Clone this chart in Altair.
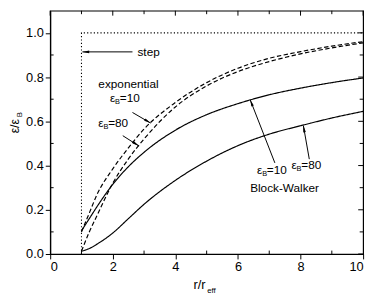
import math
import altair as alt
import pandas as pd

# ---------------- data ----------------
x_vals = [1, 1.25, 1.5, 2, 2.5, 3, 4, 5, 6, 7, 8, 9, 10]
exp10 = [0.10, 0.185, 0.27, 0.385, 0.48, 0.565, 0.685, 0.775, 0.84, 0.885, 0.915, 0.94, 0.96]
exp80 = [0.0125, 0.10, 0.175, 0.32, 0.43, 0.52, 0.665, 0.76, 0.825, 0.87, 0.905, 0.932, 0.955]
bw10 = [0.105, 0.16, 0.215, 0.315, 0.395, 0.46, 0.56, 0.63, 0.68, 0.72, 0.75, 0.775, 0.796]
bw80 = [0.0125, 0.025, 0.045, 0.095, 0.16, 0.225, 0.333, 0.42, 0.49, 0.542, 0.58, 0.615, 0.645]
step_x = [1, 1, 10]
step_y = [0, 1, 1]

x_major = [0, 2, 4, 6, 8, 10]
x_minor = [1, 3, 5, 7, 9]
y_major = [0.0, 0.2, 0.4, 0.6, 0.8, 1.0]
y_minor = [0.1, 0.3, 0.5, 0.7, 0.9]

# arrows: tail (x, y) -> head (x, y) in data units
arrow_tail_x = [2.63, 2.63, 2.32, 7.18, 8.28]
arrow_tail_y = [0.914, 0.64, 0.535, 0.412, 0.429]
arrow_head_x = [1.03, 3.21, 2.84, 6.39, 8.09]
arrow_head_y = [0.914, 0.592, 0.488, 0.698, 0.581]

# ---------------- layout ----------------
W, H = 319, 248
XMAX, YMAX = 10, 1.1
FONT = "Liberation Sans"

xs = alt.Scale(domain=[0, XMAX], nice=False, zero=False)
ys = alt.Scale(domain=[0, YMAX], nice=False, zero=False)

rows = []
for name, vals in [("exp10", exp10), ("exp80", exp80), ("bw10", bw10), ("bw80", bw80)]:
    for i, (xv, yv) in enumerate(zip(x_vals, vals)):
        rows.append({"x": xv, "y": yv, "s": name, "o": i})
curves = pd.DataFrame(rows)
step_df = pd.DataFrame({"x": step_x, "y": step_y, "o": list(range(len(step_x)))})

curve_layer = alt.Chart(curves).mark_line(
    color="black", strokeWidth=1.2, interpolate="monotone", clip=True
).encode(
    x=alt.X("x:Q", scale=xs, axis=alt.Axis(values=x_major, format="d", title=None)),
    y=alt.Y("y:Q", scale=ys, axis=alt.Axis(values=y_major, format=".1f", title=None)),
    detail="s:N",
    order="o:Q",
    strokeDash=alt.StrokeDash(
        "s:N",
        scale=alt.Scale(domain=["exp10", "exp80", "bw10", "bw80"],
                        range=[[4.5, 2.5], [4.5, 2.5], [1, 0], [1, 0]]),
        legend=None,
    ),
)

step_layer = alt.Chart(step_df).mark_line(
    color="black", strokeWidth=1.1, strokeDash=[1.2, 2.2]
).encode(x=alt.X("x:Q", scale=xs), y=alt.Y("y:Q", scale=ys), order="o:Q")

# inner ticks
def vticks(vals, y0, y1):
    return alt.Chart(pd.DataFrame({"t": vals})).mark_rule(color="black", strokeWidth=1).encode(
        x=alt.X("t:Q", scale=xs), y=alt.value(y0), y2=alt.value(y1))

def hticks(vals, x0, x1):
    return alt.Chart(pd.DataFrame({"t": vals})).mark_rule(color="black", strokeWidth=1).encode(
        y=alt.Y("t:Q", scale=ys), x=alt.value(x0), x2=alt.value(x1))

tick_layers = [
    vticks(x_major, 0, 5), vticks(x_minor, 0, 3.5),
    vticks(x_minor, H, H - 3.5),
    hticks(y_major, W, W - 5), hticks(y_minor, W, W - 3.5),
    hticks(y_minor, 0, 3.5),
]

# arrows
sx, sy = W / XMAX, H / YMAX
angles = []
for tx, ty, hx, hy in zip(arrow_tail_x, arrow_tail_y, arrow_head_x, arrow_head_y):
    dx = (hx - tx) * sx
    dys = -(hy - ty) * sy
    angles.append(math.degrees(math.atan2(dx, -dys)) % 360)
arrows = pd.DataFrame({"tx": arrow_tail_x, "ty": arrow_tail_y,
                       "hx": arrow_head_x, "hy": arrow_head_y, "a": angles})
arrow_lines = alt.Chart(arrows).mark_rule(color="black", strokeWidth=1).encode(
    x=alt.X("tx:Q", scale=xs), y=alt.Y("ty:Q", scale=ys), x2="hx:Q", y2="hy:Q")
arrow_heads = alt.Chart(arrows).mark_point(
    shape="M0,0L-0.45,2.3L0.45,2.3Z", filled=True, color="black", size=36, opacity=1
).encode(x=alt.X("hx:Q", scale=xs), y=alt.Y("hy:Q", scale=ys), angle=alt.Angle("a:Q", scale=None))

# text annotations (data-anchored)
def txt(x, y, s, size=12, dx=0, dy=0):
    return alt.Chart(pd.DataFrame({"x": [x], "y": [y], "s": [s]})).mark_text(
        align="left", baseline="middle", font=FONT, fontSize=size, dx=dx, dy=dy, color="black"
    ).encode(x=alt.X("x:Q", scale=xs), y=alt.Y("y:Q", scale=ys), text="s:N")

def eps_label(x, y, val):
    return [txt(x, y, "ε"), txt(x, y, "B", size=7.5, dx=5.2, dy=4), txt(x, y, "=" + val, dx=10)]

labels = [
    txt(2.79, 0.914, "step"),
    txt(1.54, 0.77, "exponential"),
    *eps_label(1.91, 0.703, "10"),
    *eps_label(1.54, 0.592, "80"),
    *eps_label(6.61, 0.381, "10"),
    *eps_label(7.71, 0.403, "80"),
    txt(6.39, 0.30, "Block-Walker"),
]

# axis titles (pixel placed)
def ptxt(x, y, s, size, angle=0):
    return alt.Chart(pd.DataFrame({"s": [s]})).mark_text(
        align="left", baseline="alphabetic", font=FONT, fontSize=size, angle=angle, color="black"
    ).encode(x=alt.value(x), y=alt.value(y), text="s:N")

titles = [
    ptxt(146, 284, "r/r", 13),
    ptxt(160, 288, "eff", 8),
    ptxt(-32, 125, "ε/ε", 12.5, angle=270),
    ptxt(-28.5, 108.5, "B", 8, angle=270),
]

chart = alt.layer(
    step_layer, curve_layer, *tick_layers, arrow_lines, arrow_heads, *labels, *titles
).properties(
    width=W, height=H,
    autosize=alt.AutoSizeParams(type="none"),
    padding={"left": 43, "top": 0, "right": 6, "bottom": 40},
).configure_view(
    stroke="black", strokeWidth=1.2
).configure_axis(
    labelFont=FONT, labelFontSize=13, labelColor="black",
    tickColor="black", tickSize=5, tickWidth=1,
    domainColor="black", domainWidth=1.2, grid=False, labelPadding=2,
)

chart.save("out.html", embed_options={"renderer": "svg", "actions": False})
